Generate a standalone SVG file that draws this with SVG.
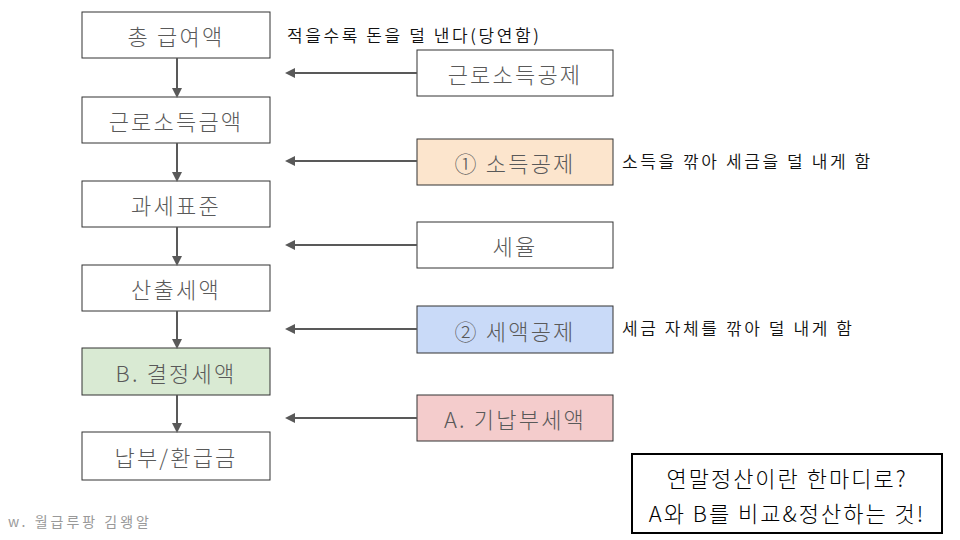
<svg xmlns="http://www.w3.org/2000/svg" width="960" height="540" viewBox="0 0 960 540">
<defs>
<marker id="ah" markerWidth="10" markerHeight="10" refX="8" refY="5" orient="auto" markerUnits="userSpaceOnUse">
<path d="M0,0 L10,5 L0,10 Z" fill="#595959"/>
</marker>
<style>
.box{stroke:#333;stroke-width:1;fill:#fff}
.t{font-family:"Noto Sans CJK KR","Noto Sans",sans-serif;font-weight:300;font-size:22px;fill:#595959;text-anchor:middle;dominant-baseline:central;letter-spacing:2.2px}
.n{font-family:"Noto Sans CJK KR","Noto Sans",sans-serif;font-weight:350;font-size:17px;fill:#111;letter-spacing:2.6px}
.c{stroke:#595959;stroke-width:2;fill:none;marker-end:url(#ah)}
</style>
</defs>
<rect width="960" height="540" fill="#fff"/>
<g id="n1"><rect class="box" x="82" y="12" width="188" height="46"/><text class="t" x="176" y="35">총 급여액</text></g>
<g id="n2"><rect class="box" x="82" y="97" width="188" height="46"/><text class="t" x="176" y="120">근로소득금액</text></g>
<g id="n3"><rect class="box" x="82" y="181" width="188" height="46"/><text class="t" x="176" y="204">과세표준</text></g>
<g id="n4"><rect class="box" x="82" y="265" width="188" height="46"/><text class="t" x="176" y="288">산출세액</text></g>
<g id="n5"><rect class="box" x="82" y="348" width="188" height="47" style="fill:#d9ead3"/><text class="t" x="176" y="372">B. 결정세액</text></g>
<g id="n6"><rect class="box" x="82" y="432" width="188" height="48"/><text class="t" x="176" y="456">납부/환급금</text></g>
<g id="r1"><rect class="box" x="417" y="50" width="196" height="46"/><text class="t" x="515" y="73">근로소득공제</text></g>
<g id="r2"><rect class="box" x="417" y="139" width="196" height="46" style="fill:#fce5cd"/><text class="t" x="515" y="162">① 소득공제</text></g>
<g id="r3"><rect class="box" x="417" y="222" width="196" height="46"/><text class="t" x="515" y="245">세율</text></g>
<g id="r4"><rect class="box" x="417" y="306" width="196" height="47" style="fill:#c9daf8"/><text class="t" x="515" y="330">② 세액공제</text></g>
<g id="r5"><rect class="box" x="417" y="395" width="196" height="46" style="fill:#f4cccc"/><text class="t" x="515" y="418">A. 기납부세액</text></g>
<g id="connectors">
<line class="c" x1="177" y1="58" x2="177" y2="96"/>
<line class="c" x1="177" y1="143" x2="177" y2="180"/>
<line class="c" x1="177" y1="227" x2="177" y2="264"/>
<line class="c" x1="177" y1="311" x2="177" y2="347"/>
<line class="c" x1="177" y1="395" x2="177" y2="431"/>
<line class="c" x1="417" y1="73" x2="287" y2="73"/>
<line class="c" x1="417" y1="161" x2="287" y2="161"/>
<line class="c" x1="417" y1="245" x2="287" y2="245"/>
<line class="c" x1="417" y1="329" x2="287" y2="329"/>
<line class="c" x1="417" y1="418" x2="287" y2="418"/>
</g>
<text class="n" x="287" y="42">적을수록 돈을 덜 낸다(당연함)</text>
<text class="n" x="622" y="168">소득을 깎아 세금을 덜 내게 함</text>
<text class="n" x="622" y="335">세금 자체를 깎아 덜 내게 함</text>
<g id="summary">
<rect x="632" y="454" width="310" height="79" fill="#fff" stroke="#000" stroke-width="2"/>
<text class="t" x="787" y="477" style="fill:#000;letter-spacing:2px">연말정산이란 한마디로?</text>
<text class="t" x="787" y="512" style="fill:#000;letter-spacing:2px">A와 B를 비교&amp;정산하는 것!</text>
</g>
<text x="8" y="527" style="font-family:'Noto Sans CJK KR','Noto Sans',sans-serif;font-size:14px;fill:#999;letter-spacing:3px">w. 월급루팡 김왱알</text>
</svg>
